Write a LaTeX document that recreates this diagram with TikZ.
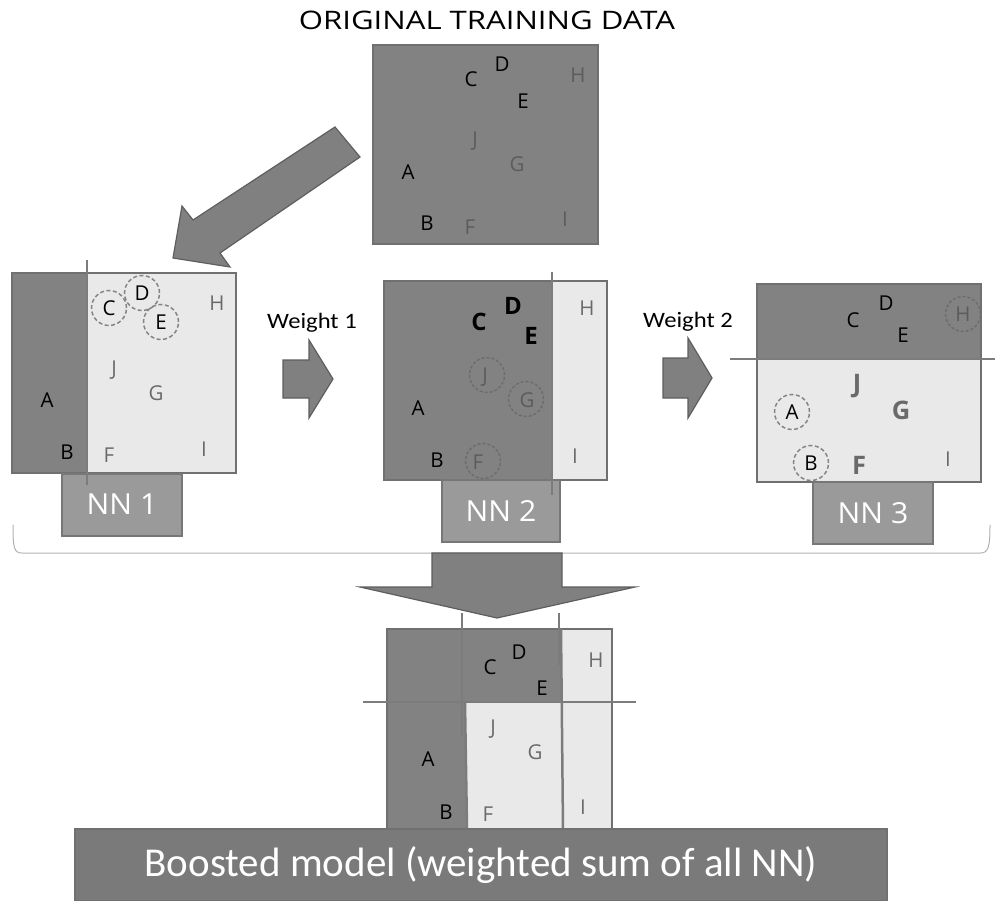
\documentclass[tikz,border=0pt]{standalone}
\usepackage{fontspec}
\setmainfont{Open Sans}
\newfontfamily\calib{Carlito}
\newfontfamily\calibwide[FakeStretch=1.12]{Carlito}
\newfontfamily\titlefont[FakeStretch=1.22]{Open Sans}
\newfontfamily\nnfont[FakeStretch=1.04]{Open Sans}

\definecolor{darkc}{HTML}{828282}
\definecolor{lightc}{HTML}{E9E9E9}
\definecolor{bordc}{HTML}{707070}
\definecolor{nnc}{HTML}{9A9A9A}
\definecolor{nnbord}{HTML}{777777}
\definecolor{arrc}{HTML}{808080}
\definecolor{arrbord}{HTML}{5E5E5E}
\definecolor{sepc}{HTML}{7C7C7C}
\definecolor{dimtxt}{HTML}{5C5C5C}
\definecolor{softtxt}{HTML}{6A6A6A}
\definecolor{ringc}{HTML}{858585}
\definecolor{ringd}{HTML}{6C6C6C}
\definecolor{bannerc}{HTML}{7A7A7A}

\tikzset{
  ltr/.style={inner sep=0pt, font=\fontsize{20.5}{24}\selectfont},
  blk/.style={ltr, text=black},
  dim/.style={ltr, text=dimtxt},
  soft/.style={ltr, text=softtxt},
  bigbold/.style={font=\fontsize{24}{28}\selectfont\bfseries},
  panelline/.style={draw=bordc, line width=2pt},
  sepline/.style={draw=sepc, line width=2.5pt},
  nnbox/.style={draw=nnbord, fill=nnc, line width=2pt, text=white,
    minimum width=120pt, minimum height=62pt, inner sep=0pt,
    font=\nnfont\fontsize{29}{32}\selectfont},
  ring/.style={draw=ringc, dash pattern=on 4pt off 2.5pt, line width=1.5pt, circle, minimum size=35pt, inner sep=0pt},
  ringdk/.style={draw=ringd, dash pattern=on 3pt off 2pt, line width=1.4pt, circle, minimum size=35pt, inner sep=0pt},
  blockarrow/.style={fill=arrc, draw=arrbord, line width=1.2pt, line join=miter},
  wlabel/.style={font=\calibwide\fontsize{22}{24}\selectfont, inner sep=0pt, anchor=base},
}

\begin{document}
\begin{tikzpicture}[x=1pt, y=-1pt]
\useasboundingbox (0,0) rectangle (995,901);

% ---- title and the original data set ----
\node[font=\titlefont\fontsize{25.5}{28}\selectfont, inner sep=0pt] (title) at (487,20) {ORIGINAL TRAINING DATA};
\node[draw=bordc, fill=darkc, line width=2pt, minimum width=225pt, minimum height=199pt, inner sep=0pt] (orig) at (485.5,144.5) {};
\node[blk] (oC) at (471,79) {C};
\node[blk] (oD) at (502,64) {D};
\node[blk] (oE) at (523,101) {E};
\node[dim] (oH) at (578,75) {H};
\node[dim] (oJ) at (475,141) {J};
\node[dim] (oG) at (517,164) {G};
\node[blk] (oA) at (408,172) {A};
\node[blk] (oB) at (427,223) {B};
\node[dim] (oF) at (470,227) {F};
\node[dim] (oI) at (565,219) {I};

% ---- diagonal arrow towards the first learner ----
\draw[blockarrow] (335,127) -- (360,157) -- (220,253) -- (230,267) -- (173,258) -- (182,206) -- (193,220) -- cycle;

% ---- first learner ----
\fill[lightc] (12,273) rectangle (236,473);
\fill[darkc] (12,273) rectangle (87,473);
\draw[panelline] (12,273) rectangle (236,473);
\node[nnbox] (nn1) at (122,504.5) {NN 1};
\draw[sepline] (87,260) -- (87,485);
\node[blk] (aC) at (109,308) {C};
\node[blk] (aD) at (142,293) {D};
\node[blk] (aE) at (161,322) {E};
\node[ring] at (aC) {};
\node[ring] at (aD) {};
\node[ring] at (aE) {};
\node[soft] (aH) at (217,303) {H};
\node[soft] (aJ) at (114,370) {J};
\node[soft] (aG) at (156,393) {G};
\node[blk] (aA) at (47,400) {A};
\node[blk] (aB) at (67,452) {B};
\node[soft] (aF) at (109,455) {F};
\node[soft] (aI) at (204,449) {I};

% ---- weight 1 ----
\node[wlabel] (w1) at (312,328) {Weight 1};
\draw[blockarrow] (283,360) -- (309,360) -- (309,340) -- (333,379) -- (309,418) -- (309,398) -- (283,398) -- cycle;

% ---- second learner ----
\fill[lightc] (384,281) rectangle (607,480);
\fill[darkc] (384,281) rectangle (552,480);
\draw[panelline] (384,281) rectangle (607,480);
\node[nnbox, minimum width=118pt] (nn2) at (501,511) {NN 2};
\draw[sepline] (552,272) -- (552,495);
\node[blk, bigbold] (bC) at (479,322) {C};
\node[blk, bigbold] (bD) at (513,306) {D};
\node[blk, bigbold] (bE) at (531,336) {E};
\node[soft] (bH) at (587,308) {H};
\node[dim] (bJ) at (485,377) {J};
\node[dim] (bG) at (527,400) {G};
\node[blk] (bA) at (418,408) {A};
\node[blk] (bB) at (437,460) {B};
\node[dim] (bF) at (478,462) {F};
\node[soft] (bI) at (575,456) {I};
\node[ringdk] at (487,375) {};
\node[ringdk] at (526,399) {};
\node[ringdk] at (483,461) {};

% ---- weight 2 ----
\node[wlabel] (w2) at (688,327) {Weight 2};
\draw[blockarrow] (663,358) -- (688,358) -- (688,338) -- (712,378) -- (688,418) -- (688,398) -- (663,398) -- cycle;

% ---- third learner ----
\fill[lightc] (757,284) rectangle (981,482);
\fill[darkc] (757,284) rectangle (981,359);
\draw[panelline] (757,284) rectangle (981,482);
\node[nnbox] (nn3) at (873,513) {NN 3};
\draw[sepline] (730,359) -- (995,359);
\node[blk] (cC) at (853,320) {C};
\node[blk] (cD) at (886,303) {D};
\node[blk] (cE) at (903,335) {E};
\node[dim] (cH) at (963,314) {H};
\node[ringdk] at (cH) {};
\node[soft, font=\fontsize{25.5}{28}\selectfont\bfseries] (cJ) at (857,386) {J};
\node[soft, font=\fontsize{25.5}{28}\selectfont\bfseries] (cG) at (901,410) {G};
\node[soft, font=\fontsize{25.5}{28}\selectfont\bfseries] (cF) at (859,465) {F};
\node[blk] (cA) at (792,412) {A};
\node[blk] (cB) at (811,463) {B};
\node[ring] at (cA) {};
\node[ring] at (cB) {};
\node[soft] (cI) at (948,459) {I};

% ---- brace gathering the three learners ----
\draw[draw=gray!60, line width=1pt, line cap=round]
  (13,525) .. controls (13,548) and (14,553) .. (22,553) -- (980,553)
  .. controls (988,553) and (990,548) .. (990,525);

% ---- arrow down to the combined model ----
\draw[blockarrow] (432,553) -- (562,553) -- (562,587) -- (635,587) -- (497,618) -- (360,587) -- (432,587) -- cycle;

% ---- combined model ----
\fill[darkc] (387,629) rectangle (612,829);
\fill[lightc] (561,629) -- (612,629) -- (612,829) -- (563,829) -- cycle;
\fill[lightc] (465,702) -- (561,702) -- (563,829) -- (467,829) -- cycle;
\draw[panelline] (387,629) rectangle (612,829);
\draw[sepline] (462,613) -- (462,737);
\draw[sepline] (465,702) -- (467,829);
\draw[sepline] (559,613) -- (559,665);
\draw[sepline] (561,629) -- (563,829);
\draw[sepline] (363,702) -- (636,702);
\node[blk] (dC) at (490,667) {C};
\node[blk] (dD) at (519,652) {D};
\node[blk] (dE) at (542,688) {E};
\node[soft] (dH) at (596,660) {H};
\node[soft] (dJ) at (493,729) {J};
\node[soft] (dG) at (535,752) {G};
\node[blk] (dA) at (428,759) {A};
\node[blk] (dB) at (446,812) {B};
\node[soft] (dF) at (488,814) {F};
\node[soft] (dI) at (583,807) {I};

% ---- banner ----
\node[draw=bordc, fill=bannerc, line width=1.5pt, minimum width=812pt, minimum height=72pt,
      inner sep=0pt, text=white, font=\calib\fontsize{41}{44}\selectfont] (boost) at (481,865)
      {Boosted model (weighted sum of all NN)};
\end{tikzpicture}
\end{document}
